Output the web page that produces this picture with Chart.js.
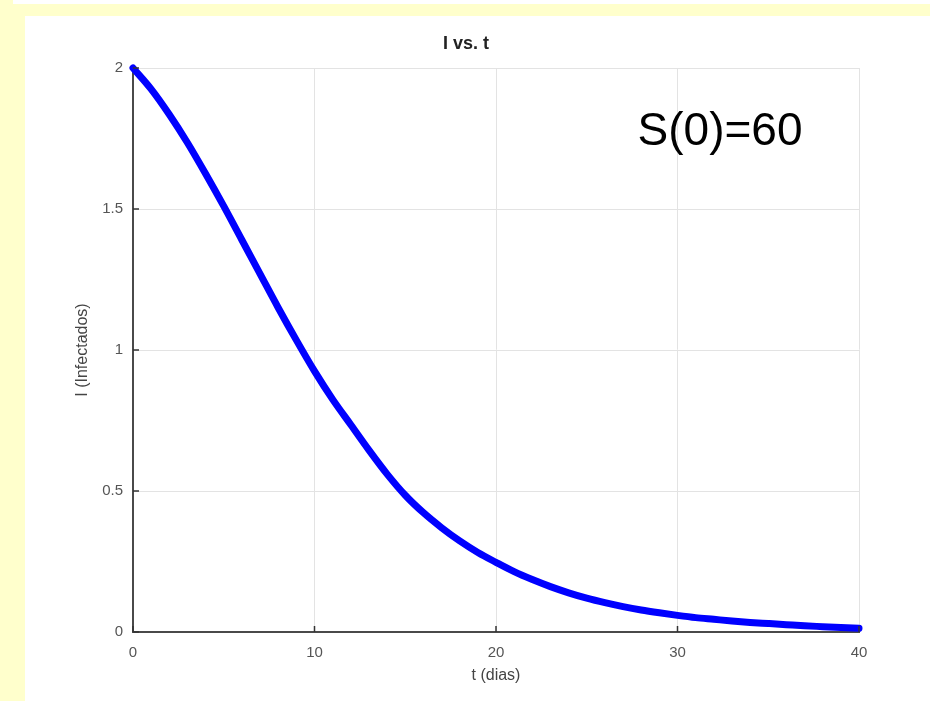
<!DOCTYPE html>
<html>
<head>
<meta charset="utf-8">
<script src="https://cdn.jsdelivr.net/npm/chart.js@4.4.1/dist/chart.umd.min.js"></script>
<style>
  html, body { margin: 0; padding: 0; }
  body { width: 930px; height: 701px; background: #ffffcc; position: relative; overflow: hidden; }
  #tira { position: absolute; left: 13px; top: 0; width: 917px; height: 4px; background: #fff; }
  #panel { position: absolute; left: 25px; top: 16px; width: 905px; height: 685px; background: #fff; }
  #wrap { position: absolute; left: 0; top: 0; width: 930px; height: 701px; }
</style>
</head>
<body>
<div id="tira"></div>
<div id="panel"></div>
<div id="wrap"><canvas id="chartI" width="930" height="701"></canvas></div>
<script>
// Curva I vs. t (modelo SIR, S(0)=60)
var dias = [0, 1, 2, 3, 4, 5, 6, 7, 8, 9, 10, 11, 12, 13, 14, 15, 16, 17, 18, 19, 20,
            21, 22, 23, 24, 25, 26, 27, 28, 29, 30, 31, 32, 33, 34, 35, 36, 37, 38, 39, 40];
var infectados = [2.0, 1.925, 1.835, 1.735, 1.625, 1.51, 1.39, 1.27, 1.15, 1.035, 0.925,
                  0.825, 0.735, 0.645, 0.56, 0.485, 0.423, 0.37, 0.323, 0.282, 0.247,
                  0.214, 0.186, 0.161, 0.139, 0.12, 0.104, 0.09, 0.078, 0.068, 0.059,
                  0.051, 0.045, 0.039, 0.034, 0.03, 0.026, 0.022, 0.019, 0.016, 0.013];
var xTicks = [0, 10, 20, 30, 40];
var xTickLabels = ['0', '10', '20', '30', '40'];
var yTicks = [0, 0.5, 1, 1.5, 2];
var yTickLabels = ['0', '0.5', '1', '1.5', '2'];
var anotacion = 'S(0)=60';

var puntos = dias.map(function (t, i) { return {x: t, y: infectados[i]}; });

// marcas de tick hacia adentro, como en octave
var ticksAdentro = {
    id: 'ticksAdentro',
    afterDatasetsDraw: function (chart) {
        var ctx = chart.ctx, xs = chart.scales.x, ys = chart.scales.y;
        ctx.save();
        ctx.strokeStyle = '#333';
        ctx.lineWidth = 1.5;
        xs.ticks.forEach(function (tk) {
            var px = xs.getPixelForValue(tk.value);
            ctx.beginPath(); ctx.moveTo(px, ys.bottom); ctx.lineTo(px, ys.bottom - 6); ctx.stroke();
        });
        ys.ticks.forEach(function (tk) {
            var py = ys.getPixelForValue(tk.value);
            ctx.beginPath(); ctx.moveTo(xs.left, py); ctx.lineTo(xs.left + 6, py); ctx.stroke();
        });
        // texto de la anotacion
        ctx.fillStyle = '#000';
        ctx.font = '46px "Liberation Sans", Arial, sans-serif';
        ctx.textAlign = 'left';
        ctx.textBaseline = 'alphabetic';
        ctx.fillText(anotacion, xs.getPixelForValue(27.8), ys.getPixelForValue(1.727));
        ctx.restore();
    }
};

var fuente = '"Liberation Sans", Arial, sans-serif';

new Chart(document.getElementById('chartI'), {
    type: 'line',
    data: {
        datasets: [{
            label: 'I',
            data: puntos,
            borderColor: '#0000ff',
            borderWidth: 7,
            pointRadius: 0,
            cubicInterpolationMode: 'monotone',
            borderCapStyle: 'round',
            clip: false
        }]
    },
    options: {
        responsive: false,
        animation: false,
        devicePixelRatio: 1,
        layout: { padding: { left: 73, right: 71, top: 16, bottom: 0 } },
        plugins: {
            legend: { display: false },
            tooltip: { enabled: false },
            title: {
                display: true,
                text: 'I vs. t',
                color: '#222',
                font: { family: fuente, size: 18, weight: 'bold' },
                padding: { top: 17, bottom: 13.4 }
            }
        },
        scales: {
            x: {
                type: 'linear',
                min: 0, max: 40,
                afterBuildTicks: function (s) { s.ticks = xTicks.map(function (v) { return {value: v}; }); },
                afterFit: function (s) { s.height = 69; },
                grid: { color: '#e3e3e3', drawTicks: false },
                border: { color: '#4a4a4a', width: 2 },
                ticks: {
                    color: '#555', padding: 12, font: { family: fuente, size: 15 },
                    callback: function (v, i) { return xTickLabels[i]; }
                },
                title: {
                    display: true, text: 't (dias)', color: '#444',
                    font: { family: fuente, size: 16 },
                    padding: { top: 0, bottom: 16 }
                }
            },
            y: {
                type: 'linear',
                min: 0, max: 2,
                afterBuildTicks: function (s) { s.ticks = yTicks.map(function (v) { return {value: v}; }); },
                afterFit: function (s) { s.width = 60; },
                grid: { color: '#e3e3e3', drawTicks: false },
                border: { color: '#4a4a4a', width: 2 },
                ticks: {
                    color: '#555', padding: 10, font: { family: fuente, size: 15 },
                    callback: function (v, i) { return yTickLabels[i]; }
                },
                title: {
                    display: true, text: 'I (Infectados)', color: '#444',
                    font: { family: fuente, size: 16 },
                    padding: { top: 0, bottom: 0 }
                }
            }
        }
    },
    plugins: [ticksAdentro]
});
</script>
</body>
</html>
